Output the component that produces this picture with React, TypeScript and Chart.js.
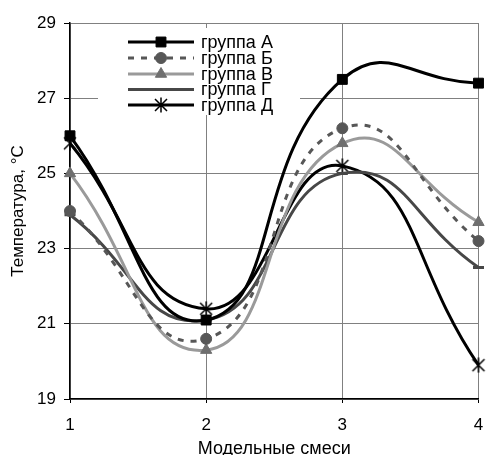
import React, { useEffect, useRef } from "react";
import { Chart, registerables } from "chart.js";
import { drawPoint } from "chart.js/helpers";

Chart.register(...registerables);

const categories = ["1", "2", "3", "4"];
const seriesNames = ["группа А", "группа Б", "группа В", "группа Г", "группа Д"];
const groupA = [26.0, 21.1, 27.5, 27.4];
const groupB = [24.0, 20.6, 26.2, 23.2];
const groupV = [25.0, 20.3, 25.8, 23.7];
const groupG = [23.9, 21.1, 25.0, 22.5];
const groupD = [25.8, 21.4, 25.2, 19.9];
const yTicks = [19, 21, 23, 25, 27, 29];

const FONT = "Arial, 'Liberation Sans', sans-serif";

function makeAsterisk(): HTMLCanvasElement {
  const c = document.createElement("canvas");
  c.width = 16;
  c.height = 16;
  const g = c.getContext("2d") as CanvasRenderingContext2D;
  g.strokeStyle = "#000";
  g.lineWidth = 1.5;
  g.beginPath();
  g.moveTo(2, 2);
  g.lineTo(14, 14);
  g.moveTo(14, 2);
  g.lineTo(2, 14);
  g.moveTo(8, 0.5);
  g.lineTo(8, 15.5);
  g.stroke();
  return c;
}

const styles = [
  { line: "#000000", point: "#000000", style: "rect", radius: 7, dash: [] as number[] },
  { line: "#575757", point: "#575757", style: "circle", radius: 5.5, dash: [6, 7] },
  { line: "#9a9a9a", point: "#6f6f6f", style: "triangle", radius: 6.5, dash: [] as number[] },
  { line: "#474747", point: "#474747", style: "line", radius: 5.5, dash: [] as number[] },
  { line: "#000000", point: "#000000", style: "asterisk", radius: 7, dash: [] as number[] },
];

export default function App() {
  const ref = useRef<HTMLCanvasElement>(null);
  useEffect(() => {
    const star = makeAsterisk();
    const styleOf = (s: string) => (s === "asterisk" ? star : s);
    const legendPlugin = {
      id: "insideLegend",
      afterDatasetsDraw(chart: any) {
        const ctx = chart.ctx;
        ctx.save();
        ctx.fillStyle = "#ffffff";
        ctx.fillRect(98, 28, 202, 87);
        const rows = [42, 58, 74, 89.5, 105];
        chart.data.datasets.forEach((ds: any, i: number) => {
          const st = styles[i];
          const y = rows[i];
          ctx.save();
          ctx.strokeStyle = st.line;
          ctx.lineWidth = 3;
          ctx.setLineDash(st.dash);
          ctx.beginPath();
          ctx.moveTo(128, y);
          ctx.lineTo(194, y);
          ctx.stroke();
          ctx.setLineDash([]);
          ctx.fillStyle = st.point;
          ctx.strokeStyle = st.point;
          ctx.lineWidth = st.style === "line" ? 3 : 1;
          drawPoint(ctx, { pointStyle: styleOf(st.style), rotation: 0, radius: st.radius, borderWidth: ctx.lineWidth }, 161, y);
          ctx.restore();
          ctx.fillStyle = "#000";
          ctx.font = `18px ${FONT}`;
          ctx.textBaseline = "middle";
          ctx.textAlign = "left";
          ctx.fillText(ds.label, 201, y + 1);
        });
        ctx.restore();
      },
    };
    const all = [groupA, groupB, groupV, groupG, groupD];
    const chart = new Chart(ref.current as HTMLCanvasElement, {
      type: "line",
      data: {
        labels: categories,
        datasets: all.map((d, i) => ({
          label: seriesNames[i],
          data: d,
          borderColor: styles[i].line,
          backgroundColor: styles[i].point,
          pointBackgroundColor: styles[i].point,
          pointBorderColor: styles[i].point,
          pointBorderWidth: styles[i].style === "line" ? 3 : 1,
          pointStyle: styleOf(styles[i].style) as any,
          pointRadius: styles[i].radius,
          borderWidth: 3,
          borderDash: styles[i].dash,
          tension: 0.5,
          fill: false,
        })),
      },
      options: {
        animation: false,
        responsive: false,
        maintainAspectRatio: false,
        layout: { padding: { top: 23, right: 6, left: 0, bottom: 0 } },
        plugins: { legend: { display: false }, tooltip: { enabled: false } },
        scales: {
          x: {
            type: "category",
            offset: false,
            grid: { color: "#808080", lineWidth: 1, tickLength: 4, tickColor: "#000" },
            border: { color: "#000", width: 1.5 },
            ticks: { color: "#000", font: { family: FONT, size: 17 }, padding: 12, maxRotation: 0 },
            title: {
              display: true,
              text: "Модельные смеси",
              color: "#000",
              font: { family: FONT, size: 18, lineHeight: 1 },
              padding: { top: 0, bottom: -3 },
            },
            afterFit: (s: any) => {
              s.height = 56;
              s.paddingRight = 0;
              s.paddingLeft = 0;
            },
          },
          y: {
            min: 19,
            max: 29,
            afterBuildTicks: (s: any) => {
              s.ticks = yTicks.map((v) => ({ value: v }));
            },
            grid: { color: "#808080", lineWidth: 1, tickLength: 6, tickColor: "#000" },
            border: { color: "#000", width: 1.5 },
            ticks: { color: "#000", font: { family: FONT, size: 17 }, padding: 8 },
            title: {
              display: true,
              text: "Температура, °C",
              color: "#000",
              font: { family: FONT, size: 17, lineHeight: 1.2 },
              padding: { top: 8, bottom: 0 },
            },
            afterFit: (s: any) => {
              s.width = 70;
              s.paddingTop = 0;
              s.paddingBottom = 0;
            },
          },
        },
      },
      plugins: [legendPlugin],
    });
    return () => chart.destroy();
  }, []);
  return (
    <div style={{ position: "fixed", left: 0, top: 0, width: 487, height: 455, background: "#fff" }}>
      <canvas ref={ref} width={487} height={455} style={{ width: 487, height: 455, display: "block" }} />
    </div>
  );
}
